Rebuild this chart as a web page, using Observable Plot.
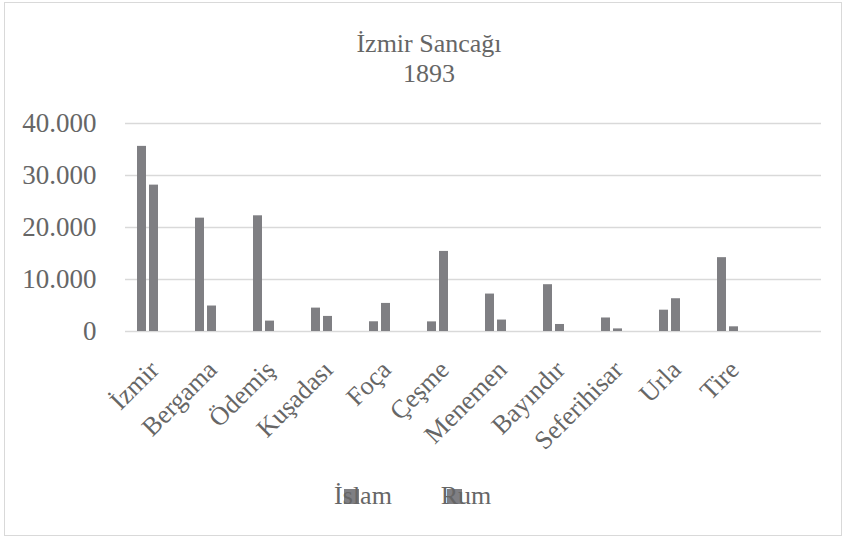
<!DOCTYPE html>
<html>
<head>
<meta charset="utf-8">
<script src="https://cdn.jsdelivr.net/npm/d3@7"></script>
<script src="https://cdn.jsdelivr.net/npm/@observablehq/plot@0.6"></script>
<style>
  html, body { margin: 0; padding: 0; background: #fff; }
  #wrap { position: relative; width: 846px; height: 539px; overflow: hidden; }
  #frame { position: absolute; left: 4px; top: 2px; width: 838px; height: 534px; border: 1.5px solid #d9d9d9; box-sizing: border-box; }
  #chart { position: absolute; left: 0; top: 0; }
</style>
</head>
<body>
<div id="wrap">
  <div id="frame"></div>
  <div id="chart"></div>
</div>
<script>
const categories = ["İzmir", "Bergama", "Ödemiş", "Kuşadası", "Foça", "Çeşme", "Menemen", "Bayındır", "Seferihisar", "Urla", "Tire", ""];
const series = ["İslam", "Rum", " "];
const islam = [35600, 21800, 22250, 4500, 1870, 1850, 7200, 9000, 2600, 4100, 14200, 0];
const rum   = [28150, 4900, 2000, 2900, 5400, 15400, 2200, 1350, 500, 6300, 900, 0];
const yTicks = [0, 10000, 20000, 30000, 40000];
const titleLines = ["İzmir Sancağı", "1893"];
const legendItems = ["İslam", "Rum"];

const data = [];
categories.forEach((c, i) => {
  data.push({category: c, series: "İslam", value: islam[i]});
  data.push({category: c, series: "Rum", value: rum[i]});
});

const fmt = d => d3.format(",")(d).replace(/,/g, ".");
const serif = "'Liberation Serif', serif";
const textColor = "#666";
const barColor = "#7f7f83";

// whole page is one SVG: plot area from y=123 (40.000) to y=331 (0)
const chart = Plot.plot({
  width: 846,
  height: 539,
  marginLeft: 122,
  marginRight: 23,
  marginTop: 123,
  marginBottom: 208,
  style: { fontFamily: serif, fontSize: "26px", color: textColor, background: "transparent", overflow: "visible" },
  fx: { domain: categories, padding: 0, axis: "bottom", tickRotate: -45, tickSize: 0, tickPadding: 34, label: null },
  x: { domain: series, paddingInner: 0.23, paddingOuter: 0.86, axis: null },
  y: { domain: [0, 40000], ticks: yTicks, tickFormat: fmt, tickSize: 0, tickPadding: 29, label: null, grid: false },
  marks: [
    Plot.ruleY(yTicks, { stroke: "#d9d9d9", strokeWidth: 1.4 }),
    Plot.barY(data, { fx: "category", x: "series", y: "value", fill: barColor })
  ]
});
chart.querySelectorAll('g[aria-label="y-axis tick label"] text').forEach(t => t.style.fontSize = "27px");
document.getElementById("chart").appendChild(chart);

// title and legend appended inside the same SVG, inheriting its serif font like the axis labels
const svg = d3.select(chart);
const tg = svg.append("g").attr("fill", textColor).attr("text-anchor", "middle");
titleLines.forEach((s, i) => {
  tg.append("text").attr("x", 429).attr("y", 52 + i * 30).text(s);
});
const legendX = [344, 447];
const lg = svg.append("g");
legendItems.forEach((s, i) => {
  lg.append("rect").attr("x", legendX[i]).attr("y", 489).attr("width", 15).attr("height", 15).attr("fill", barColor);
  lg.append("text").attr("x", legendX[i] + 19).attr("y", 504).attr("fill", textColor).text(s);
});
</script>
</body>
</html>
